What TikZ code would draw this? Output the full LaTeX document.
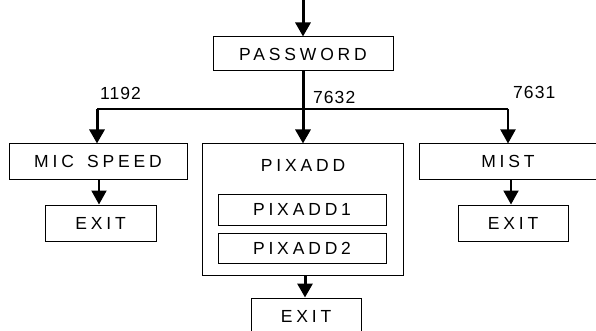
\documentclass[tikz,border=0pt]{standalone}
\usepackage{fontspec}
\setmainfont{Liberation Sans}
\newfontfamily\boxfont[LetterSpace=22]{Liberation Sans}
\newfontfamily\numfont[LetterSpace=6]{Liberation Sans}
\usetikzlibrary{arrows.meta}
\tikzset{
  box/.style={draw, line width=1pt, inner sep=0pt, font=\boxfont\fontsize{17.5}{20}\selectfont},
  numlabel/.style={inner sep=0pt, anchor=west, font=\numfont\fontsize{17.5}{20}\selectfont},
  flow/.style={line width=3pt, -{Triangle[width=15pt,length=14pt]}},
  flowthin/.style={line width=2pt, -{Triangle[width=15pt,length=14pt]}},
  branch/.style={line width=1.2pt}
}
\begin{document}
\begin{tikzpicture}[x=1pt,y=-1pt]
\useasboundingbox (0,0) rectangle (596,331);
\clip (0,0) rectangle (596,331);
\node[box, minimum width=180pt, minimum height=34pt] (pw) at (303,54) {PASSWORD};
\node[box, minimum width=178pt, minimum height=35pt] (mic) at (98,161.5) {MIC\hspace{13pt}SPEED};
\node[box, minimum width=111pt, minimum height=36pt] (ex1) at (100.5,223) {EXIT};
\node[box, minimum width=201pt, minimum height=131pt] (pix) at (303,209.5) {};
\node[inner sep=0pt, font=\boxfont\fontsize{17.5}{20}\selectfont] (pixt) at (303,165) {PIXADD};
\node[box, minimum width=168pt, minimum height=31pt] (pix1) at (302,209.5) {PIXADD1};
\node[box, minimum width=168pt, minimum height=30pt] (pix2) at (302,248) {PIXADD2};
\node[box, minimum width=110pt, minimum height=36pt] (ex2) at (306,316) {EXIT};
\node[box, minimum width=178pt, minimum height=35pt] (mist) at (508,161.5) {MIST};
\node[box, minimum width=110pt, minimum height=36pt] (ex3) at (513,223) {EXIT};
\node[numlabel] (l1) at (100,93) {1192};
\node[numlabel] (l2) at (313,97.5) {7632};
\node[numlabel] (l3) at (513,92) {7631};
\coordinate (top) at (303,0);
\coordinate (bl) at (97,109);
\coordinate (br) at (508,109);
\draw[flow] (top) -- (pw.north);
\draw[branch] (bl) -- (br);
\draw[flow] (pw.south) -- (pix.north);
\draw[flow] (bl) -- (bl |- mic.north);
\draw[flowthin] (br) -- (br |- mist.north);
\draw[flowthin] ([xshift=1pt]mic.south) -- ([xshift=1pt]mic.south |- ex1.north);
\draw[flow] ([xshift=2pt]pix.south) -- ([xshift=2pt]pix.south |- ex2.north);
\draw[flowthin] ([xshift=3pt]mist.south) -- ([xshift=3pt]mist.south |- ex3.north);
\end{tikzpicture}
\end{document}
